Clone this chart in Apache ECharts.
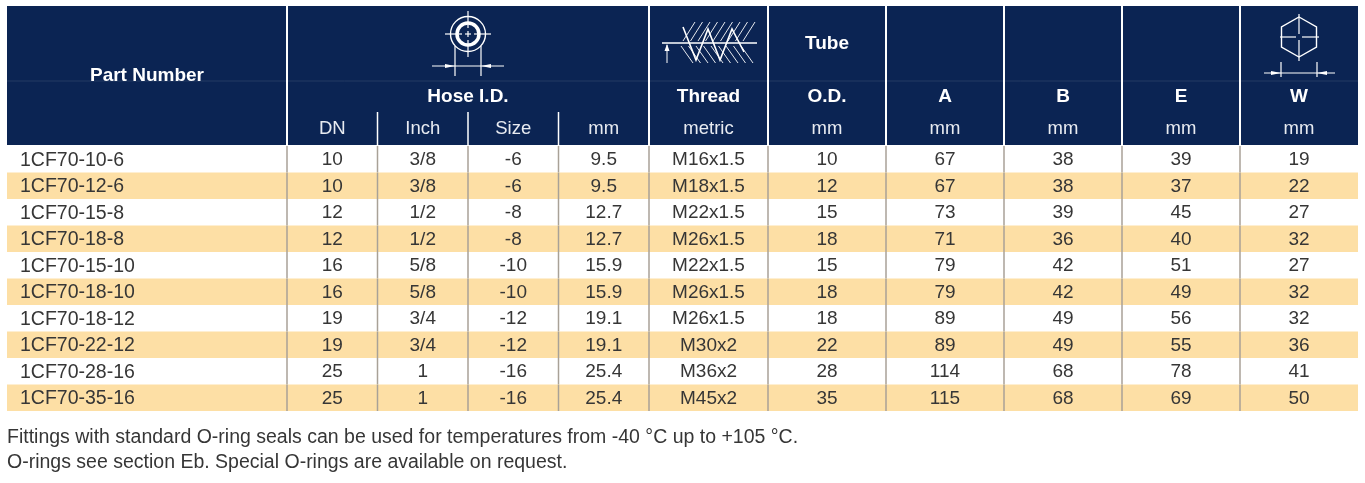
<!DOCTYPE html>
<html>
<head>
    <meta charset="utf-8">
    <title>1CF70</title>
    <script src="https://cdn.jsdelivr.net/npm/echarts@6/dist/echarts.min.js"></script>
    <style>
        html, body { margin: 0; padding: 0; background: #fff; }
        #chart { width: 1365px; height: 483px; }
    </style>
</head>
<body>
<div id="chart"></div>
<script>
    // table values
    var partNumbers = ['1CF70-10-6', '1CF70-12-6', '1CF70-15-8', '1CF70-18-8', '1CF70-15-10',
        '1CF70-18-10', '1CF70-18-12', '1CF70-22-12', '1CF70-28-16', '1CF70-35-16'];
    var dn = ['10', '10', '12', '12', '16', '16', '19', '19', '25', '25'];
    var inch = ['3/8', '3/8', '1/2', '1/2', '5/8', '5/8', '3/4', '3/4', '1', '1'];
    var hoseSize = ['-6', '-6', '-8', '-8', '-10', '-10', '-12', '-12', '-16', '-16'];
    var hoseMm = ['9.5', '9.5', '12.7', '12.7', '15.9', '15.9', '19.1', '19.1', '25.4', '25.4'];
    var thread = ['M16x1.5', 'M18x1.5', 'M22x1.5', 'M26x1.5', 'M22x1.5', 'M26x1.5', 'M26x1.5', 'M30x2', 'M36x2', 'M45x2'];
    var tubeOD = ['10', '12', '15', '18', '15', '18', '18', '22', '28', '35'];
    var dimA = ['67', '67', '73', '71', '79', '79', '89', '89', '114', '115'];
    var dimB = ['38', '38', '39', '36', '42', '42', '49', '49', '68', '68'];
    var dimE = ['39', '37', '45', '40', '51', '49', '56', '55', '78', '69'];
    var dimW = ['19', '22', '27', '32', '27', '32', '32', '36', '41', '50'];

    // header texts
    var unitLabels = ['', 'DN', 'Inch', 'Size', 'mm', 'metric', 'mm', 'mm', 'mm', 'mm', 'mm'];
    var titleLabels = ['', 'Hose I.D.', 'Thread', 'O.D.', 'A', 'B', 'E', 'W'];
    var notes = ['Fittings with standard O-ring seals can be used for temperatures from -40 °C up to +105 °C.',
        'O-rings see section Eb. Special O-rings are available on request.'];

    var columns = [partNumbers, dn, inch, hoseSize, hoseMm, thread, tubeOD, dimA, dimB, dimE, dimW];
    // column edges along the x value axis
    var colEdges = [0, 280, 370.5, 461, 551.5, 642, 761, 879, 997, 1115, 1233, 1351];

    var NAVY = '#0b2453';
    var BAND = '#fddfa5';
    var TXT = '#363636';
    var FONT = '"Liberation Sans", Arial, sans-serif';

    var myChart = echarts.init(document.getElementById('chart'));

    var rows = partNumbers.map(function (p, i) { return [0, i]; });

    var option = {
        animation: false,
        grid: { left: 7, right: 7, top: 146, bottom: 72 },
        xAxis: { type: 'value', min: 0, max: 1351, show: false },
        yAxis: { type: 'category', data: partNumbers, inverse: true, show: false },
        series: [{
            type: 'custom',
            data: rows,
            encode: { x: 0, y: 1 },
            renderItem: function (params, api) {
                var r = api.value(1);
                var h = api.size([0, 1])[1];
                var cy = api.coord([0, r])[1];
                var top = cy - h / 2;
                var x0 = api.coord([0, r])[0];
                var xN = api.coord([1351, r])[0];
                var children = [];
                if (r % 2 === 1) {
                    children.push({
                        type: 'rect',
                        shape: { x: x0, y: top, width: xN - x0, height: h },
                        style: { fill: BAND }
                    });
                }
                for (var c = 0; c < columns.length; c++) {
                    var a = api.coord([colEdges[c], r])[0];
                    var b = api.coord([colEdges[c + 1], r])[0];
                    children.push({
                        type: 'text',
                        style: {
                            text: columns[c][r],
                            x: c === 0 ? a + 13 : (a + b) / 2,
                            y: cy + 1,
                            textAlign: c === 0 ? 'left' : 'center',
                            textVerticalAlign: 'middle',
                            font: (c === 0 ? '19.5px ' : '19px ') + FONT,
                            fill: TXT
                        }
                    });
                }
                for (var e = 1; e < colEdges.length - 1; e++) {
                    var xe = api.coord([colEdges[e], r])[0];
                    children.push({
                        type: 'line',
                        shape: { x1: xe, y1: top, x2: xe, y2: top + h },
                        style: { stroke: '#a8a197', lineWidth: 1.5 }
                    });
                }
                return { type: 'group', children: children };
            }
        }]
    };
    myChart.setOption(option);

    // header built from the axis positions
    function px(v) { return myChart.convertToPixel({ xAxisIndex: 0 }, v); }

    var HT = 6, HB = 145;
    var g = [];
    var groups = [[0, 1], [1, 5], [5, 6], [6, 7], [7, 8], [8, 9], [9, 10], [10, 11]];
    groups.forEach(function (gr, i) {
        var l = px(colEdges[gr[0]]) + (i === 0 ? 0 : 1);
        var rr = px(colEdges[gr[1]]) - (i === groups.length - 1 ? 0 : 1);
        g.push({ type: 'rect', shape: { x: l, y: HT, width: rr - l, height: HB - HT }, style: { fill: NAVY } });
        var cx = (px(colEdges[gr[0]]) + px(colEdges[gr[1]])) / 2;
        if (i === 0) {
            g.push({ type: 'text', style: { text: 'Part Number', x: cx, y: 76, textAlign: 'center', textVerticalAlign: 'middle',
                    font: 'bold 19px ' + FONT, fill: '#fff' } });
        } else {
            g.push({ type: 'text', style: { text: titleLabels[i], x: cx, y: 97, textAlign: 'center', textVerticalAlign: 'middle',
                    font: 'bold 19px ' + FONT, fill: '#fff' } });
        }
    });
    // faint header rule
    g.push({ type: 'line', shape: { x1: 7, y1: 81, x2: 1358, y2: 81 }, style: { stroke: 'rgba(255,255,255,0.10)', lineWidth: 1 } });
    g.push({ type: 'text', style: { text: 'Tube', x: (px(colEdges[6]) + px(colEdges[7])) / 2, y: 44, textAlign: 'center',
            textVerticalAlign: 'middle', font: 'bold 19px ' + FONT, fill: '#fff' } });
    for (var u = 1; u < unitLabels.length; u++) {
        g.push({ type: 'text', style: { text: unitLabels[u], x: (px(colEdges[u]) + px(colEdges[u + 1])) / 2, y: 129,
                textAlign: 'center', textVerticalAlign: 'middle', font: '18.5px ' + FONT, fill: '#e8ebf1' } });
    }
    [2, 3, 4].forEach(function (e) {
        var xe = px(colEdges[e]);
        g.push({ type: 'line', shape: { x1: xe, y1: 112, x2: xe, y2: HB }, style: { stroke: '#fff', lineWidth: 1.5 } });
    });

    var W = { stroke: '#fff', fill: null, lineWidth: 1.4 };
    function ln(x1, y1, x2, y2, w) {
        g.push({ type: 'line', shape: { x1: x1, y1: y1, x2: x2, y2: y2 }, style: { stroke: '#fff', lineWidth: w || 1.2 } });
    }
    function arrow(pts) {
        g.push({ type: 'polygon', shape: { points: pts }, style: { fill: '#fff' } });
    }
    // hose icon
    var hx = (px(colEdges[1]) + px(colEdges[5])) / 2;
    g.push({ type: 'circle', shape: { cx: hx, cy: 34, r: 17.5 }, style: W });
    g.push({ type: 'circle', shape: { cx: hx, cy: 34, r: 11 }, style: { stroke: '#fff', fill: null, lineWidth: 3.5 } });
    ln(hx, 11, hx, 28); ln(hx, 31, hx, 37); ln(hx, 40, hx, 57);
    ln(hx - 23, 34, hx - 6, 34); ln(hx - 3, 34, hx + 3, 34); ln(hx + 6, 34, hx + 23, 34);
    ln(hx - 13, 46, hx - 13, 76); ln(hx + 13, 46, hx + 13, 76);
    ln(hx - 36, 66, hx + 36, 66);
    arrow([[hx - 23, 64], [hx - 13, 66], [hx - 23, 68]]);
    arrow([[hx + 23, 64], [hx + 13, 66], [hx + 23, 68]]);

    // thread icon
    ln(662, 43, 757, 43, 1.5);
    ln(667, 45, 667, 63, 1);
    arrow([[664.5, 51], [667, 44], [669.5, 51]]);
    for (var k = 0; k < 9; k++) {
        var hxk = 683 + k * 7.5;
        ln(hxk, 41, hxk + 12, 22, 0.9);
        ln(hxk - 2, 46, hxk + 10, 63, 0.9);
    }
    g.push({ type: 'polyline', shape: { points: [[683, 27], [696, 60], [708, 29], [720, 60], [732, 29], [744, 52]] },
        style: { stroke: '#fff', fill: null, lineWidth: 1.6 } });

    // hex icon
    var wx = (px(colEdges[10]) + px(colEdges[11])) / 2;
    g.push({ type: 'polygon', shape: { points: [[wx, 17], [wx + 17.5, 27], [wx + 17.5, 47], [wx, 57], [wx - 17.5, 47], [wx - 17.5, 27]] },
        style: W });
    ln(wx - 19, 37, wx - 3, 37); ln(wx + 3, 37, wx + 20, 37);
    ln(wx, 14, wx, 34); ln(wx, 40, wx, 61);
    ln(wx - 18, 62, wx - 18, 77); ln(wx + 18, 62, wx + 18, 77);
    ln(wx - 35, 73, wx + 36, 73);
    arrow([[wx - 28, 71], [wx - 18, 73], [wx - 28, 75]]);
    arrow([[wx + 28, 71], [wx + 18, 73], [wx + 28, 75]]);

    // notes under the table
    notes.forEach(function (t, i) {
        g.push({ type: 'text', style: { text: t, x: 7, y: 438 + i * 25, textAlign: 'left', textVerticalAlign: 'middle',
                font: '19.5px ' + FONT, fill: TXT } });
    });

    myChart.setOption({ graphic: g });
</script>
</body>
</html>
